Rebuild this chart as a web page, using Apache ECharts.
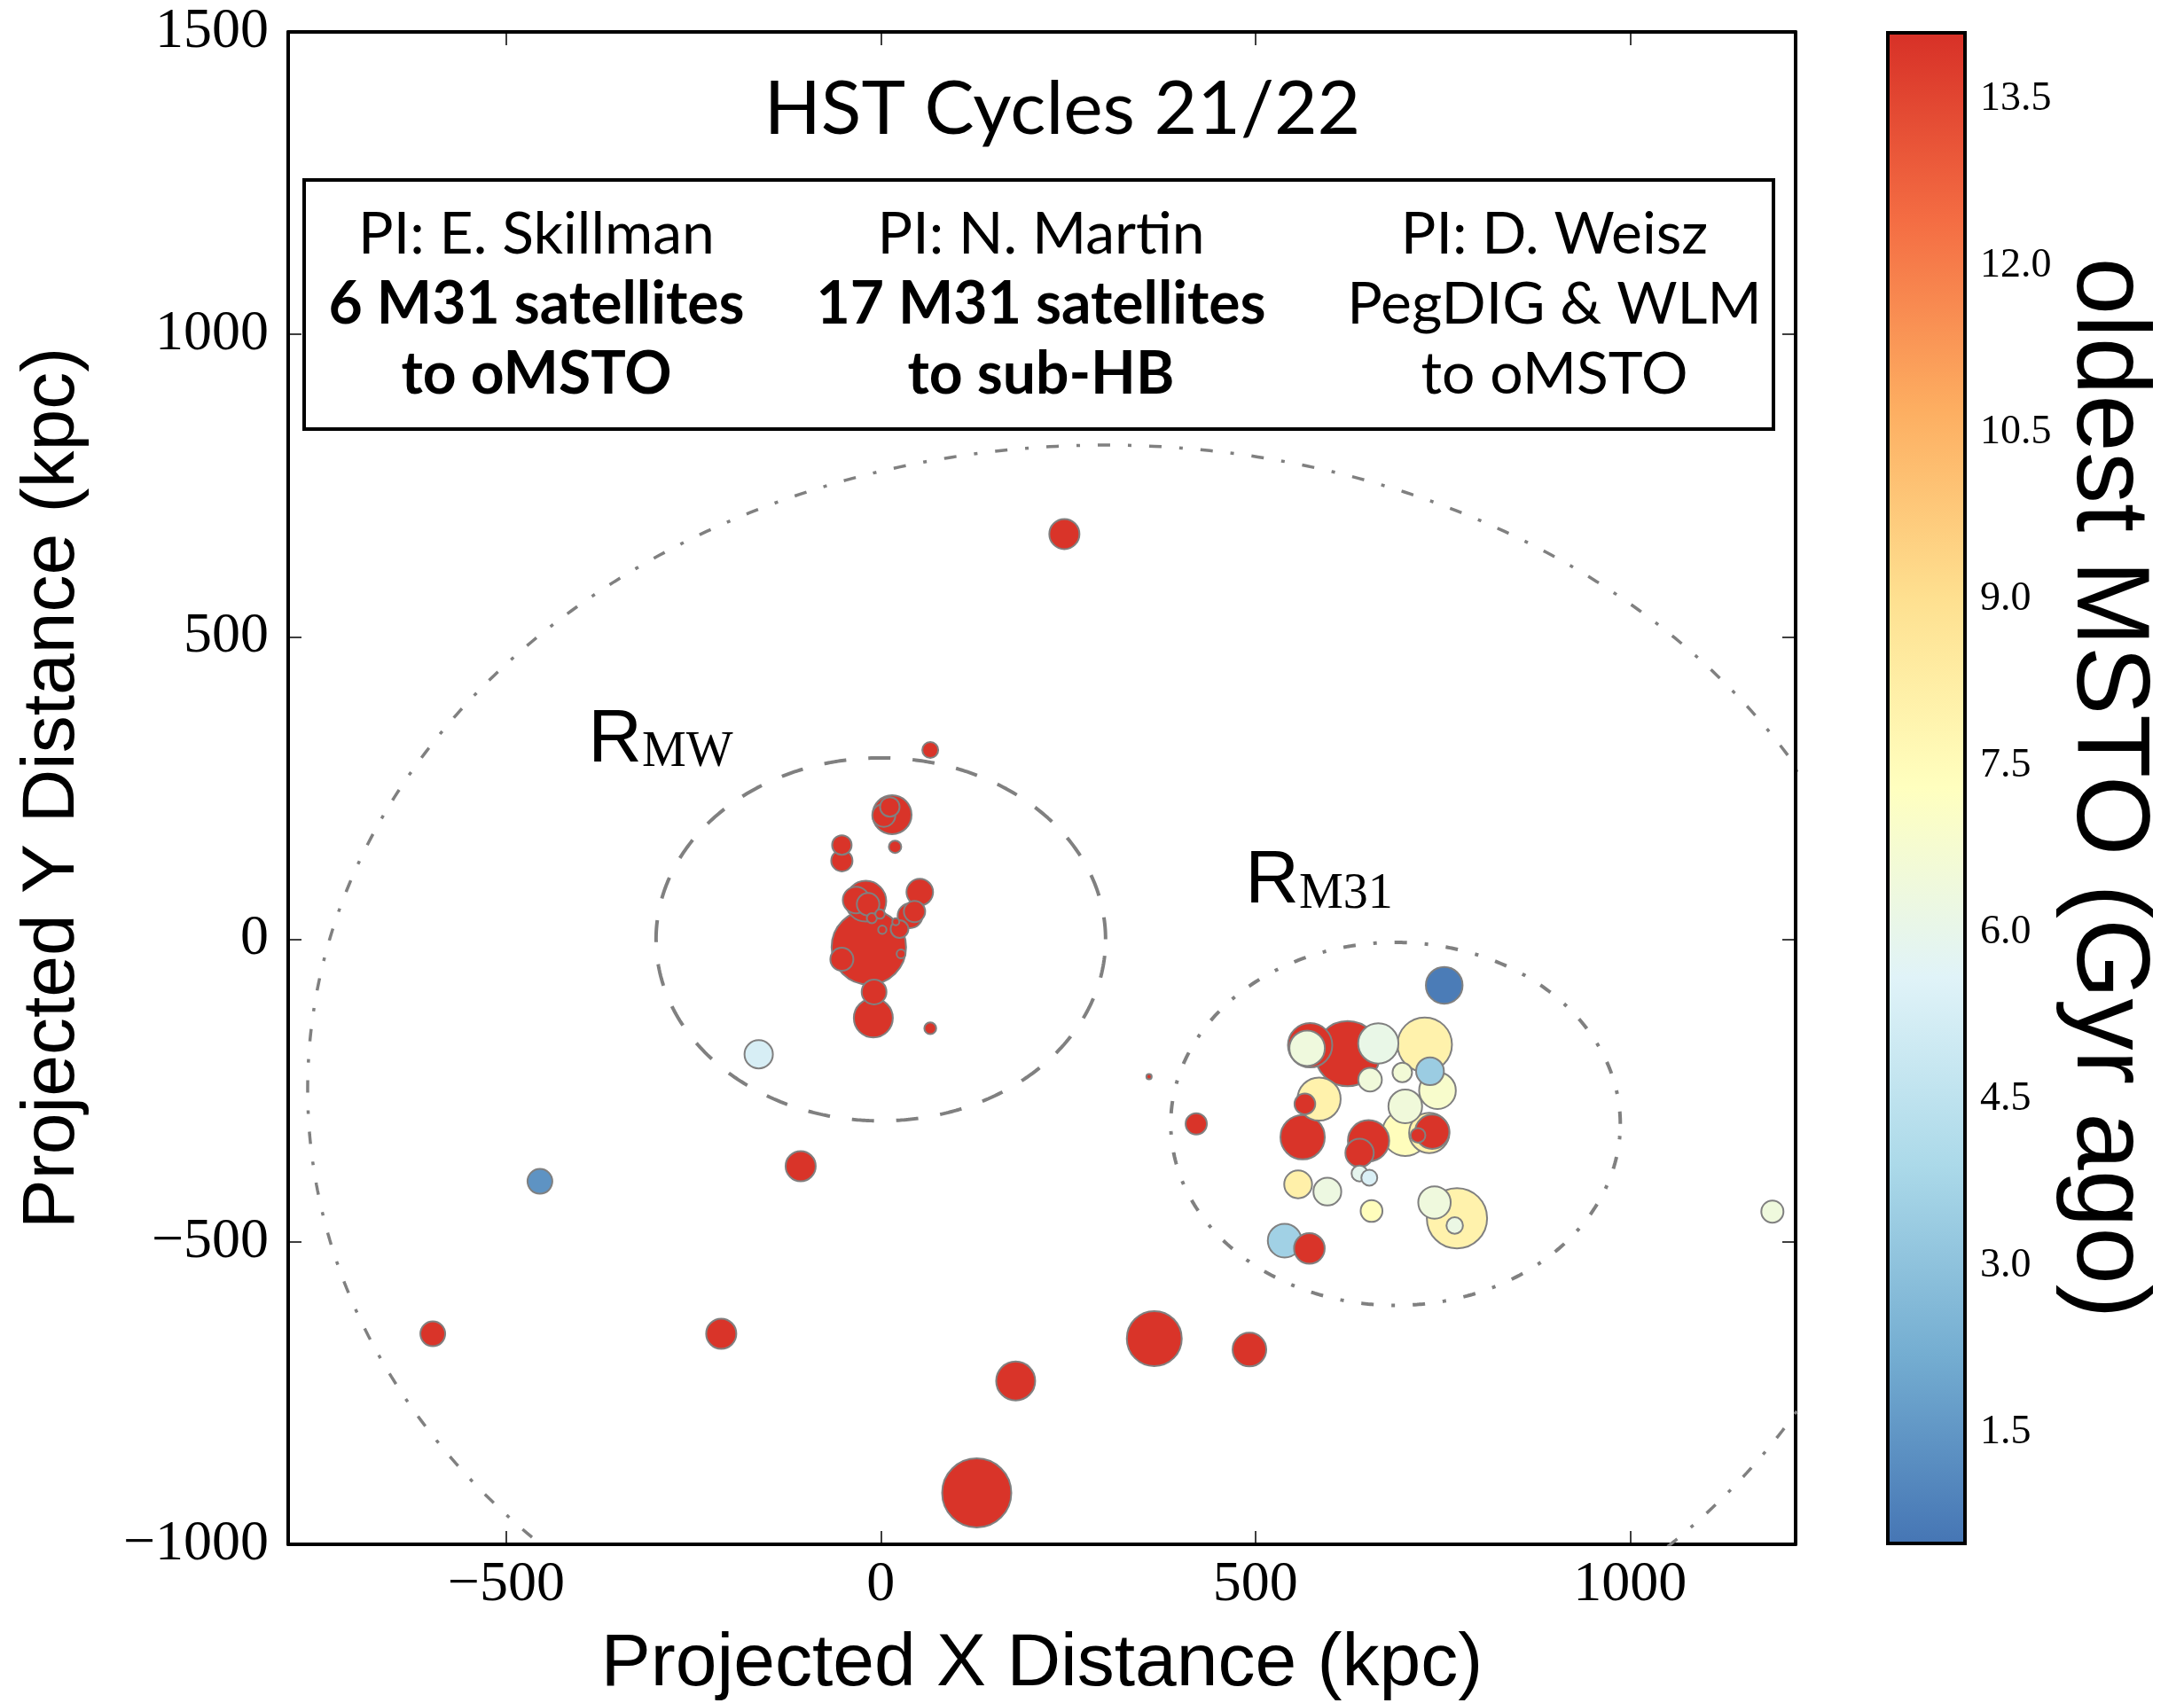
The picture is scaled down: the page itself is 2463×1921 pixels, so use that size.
<!DOCTYPE html>
<html>
<head>
<meta charset="utf-8">
<script src="https://cdn.jsdelivr.net/npm/echarts@6/dist/echarts.min.js"></script>
<style>
html, body { margin: 0; padding: 0; background: #fff; }
#chart { width: 2463px; height: 1921px; }
</style>
</head>
<body>
<div id="chart"></div>
<script>
// satellites: projected X / Y (kpc), oldest MSTO age (Gyr ago), marker size
const satX = [
    245, 66, -163, -455, -107, -598, -213, 365, 492, 180, 128, 358, 66, 421, 1190,
    15, 12, 4, -52, -52, 19, 52, 39, 45, 25, 20, 2, 27, -16, -52, -20, -33, -17, -12, -1, -9, -10,
    752, 573, 569, 623, 664, 726, 653, 696, 733, 743, 585, 566, 563, 651, 639, 700, 700, 732, 736, 717,
    639, 652, 557, 596, 655, 769, 739, 766, 539, 572
];
const satY = [
    670, 313, -190, -400, -375, -652, -652, -660, -678, -730, -915, -227, -147, -305, -450,
    206, 219, 205, 156, 130, 153, 78, 39, 46, 17, 29, 16, -24, -13, -33, 63, 65, 58, 35, 42, -87, -130,
    -76, -175, -180, -189, -172, -174, -232, -220, -218, -250, -264, -272, -327, -333, -353, -320, -276, -320, -318, -324,
    -387, -394, -405, -417, -449, -461, -435, -473, -498, -511
];
const satAge = [
    14, 14, 5.3, 1.4, 14, 14, 14, 14, 14, 14, 14, 14, 14, 14, 6.4,
    14, 14, 14, 14, 14, 14, 14, 14, 14, 14, 14, 14, 14, 14, 14, 14, 14, 14, 14, 14, 14, 14,
    0.7, 14, 6.4, 14, 6.1, 8.0, 6.5, 6.6, 3.4, 6.9, 8.0, 14, 14, 14, 14, 7.4, 6.5, 8.0, 14, 14,
    5.9, 5.4, 8.1, 6.3, 7.4, 8.0, 6.4, 6.2, 3.6, 14
];
const satSize = [
    17, 9, 16, 14, 17, 14, 17, 31, 19, 22, 39, 3, 6.7, 12, 12.5,
    22, 11, 13, 11, 12, 7, 15, 14, 12, 10, 4, 4.7, 5, 42, 13, 23, 15, 12.7, 5.7, 5.3, 14, 22,
    20.7, 25, 20, 36.7, 22.7, 30.7, 13.3, 11, 15.7, 20.7, 24.3, 11.7, 25, 23.3, 16, 26, 19, 22.7, 19.3, 8.3,
    9, 9, 15.7, 15.7, 12.3, 34, 18.3, 9.3, 19, 17.3
];

// reference radii (kpc): MW, M31, outer boundary
const circleCX = [0, 687, 300];
const circleCY = [0, -305, -248];
const circleR = [300, 300, 1065];
const circleDash = [[25, 25], [14, 20, 4, 20], [14, 20, 4, 20]];

const regionNames = ['MW', 'M31'];
const regionLabelX = [-390, 487];
const regionLabelY = [266, 32];

const xTicks = [-500, 0, 500, 1000];
const cbTicks = [1.5, 3.0, 4.5, 6.0, 7.5, 9.0, 10.5, 12.0, 13.5];
const cbMin = 0.5, cbMax = 14.1;
const cmap = ['#4575b4', '#74add1', '#abd9e9', '#e0f3f8', '#ffffbf', '#fee090', '#fdae61', '#f46d43', '#d73027'];

const programs = [
    ['PI: E. Skillman', '6 M31 satellites', 'to oMSTO', true],
    ['PI: N. Martin', '17 M31 satellites', 'to sub-HB', true],
    ['PI: D. Weisz', 'PegDIG & WLM', 'to oMSTO', false]
];

function ring(cx, cy, r) {
    let pts = [];
    for (let i = 0; i <= 720; i++) {
        let a = i / 720 * 2 * Math.PI;
        pts.push([cx + r * Math.cos(a), cy + r * Math.sin(a)]);
    }
    return pts;
}

const minus = v => String(v).replace('-', '\u2212');

// big markers first so small ones stay visible on top
let order = satX.map((v, i) => i).sort((a, b) => satSize[b] - satSize[a]);
let satData = order.map(i => [satX[i], satY[i], satAge[i], satSize[i]]);

let chart = echarts.init(document.getElementById('chart'));

let frameLine = {show: true, onZero: false, lineStyle: {color: '#000', width: 4}};
let tickStyle = {lineStyle: {color: '#000', width: 1.5}};

let series = [];
circleR.forEach((r, i) => {
    series.push({
        type: 'line',
        xAxisIndex: 0,
        yAxisIndex: 0,
        data: ring(circleCX[i], circleCY[i], r),
        showSymbol: false,
        symbol: 'none',
        clip: true,
        silent: true,
        lineStyle: {color: '#808080', width: i === 2 ? 3.5 : 4, type: circleDash[i]},
        z: 2
    });
});
series.push({
    type: 'scatter',
    xAxisIndex: 0,
    yAxisIndex: 0,
    data: satData,
    symbolSize: d => d[3] * 2,
    itemStyle: {borderColor: '#808080', borderWidth: 2, opacity: 1},
    silent: true,
    z: 5
});
series.push({
    type: 'scatter',
    xAxisIndex: 0,
    yAxisIndex: 0,
    data: regionNames.map((n, i) => ({value: [regionLabelX[i], regionLabelY[i]], name: n})),
    symbolSize: 1,
    itemStyle: {color: 'rgba(0,0,0,0)'},
    silent: true,
    z: 6,
    label: {
        show: true,
        position: [0, 0],
        align: 'left',
        verticalAlign: 'bottom',
        color: '#000',
        opacity: 1,
        formatter: p => '{r|R}{s|' + p.name + '}',
        rich: {
            r: {fontFamily: 'Liberation Sans', fontSize: 84, lineHeight: 84, color: '#000', opacity: 1, verticalAlign: 'bottom'},
            s: {fontFamily: 'Liberation Serif', fontSize: 56, lineHeight: 56, color: '#000', opacity: 1, verticalAlign: 'bottom'}
        }
    }
});
// colorbar
series.push({
    type: 'custom',
    xAxisIndex: 2,
    yAxisIndex: 2,
    data: [[0, cbMin]],
    silent: true,
    renderItem: (params, api) => {
        let p0 = api.coord([0, cbMax]);
        let p1 = api.coord([1, cbMin]);
        let stops = cmap.slice().reverse().map((c, i) => ({offset: i / (cmap.length - 1), color: c}));
        return {
            type: 'rect',
            shape: {x: p0[0], y: p0[1], width: p1[0] - p0[0], height: p1[1] - p0[1]},
            style: {fill: new echarts.graphic.LinearGradient(0, 0, 0, 1, stops), stroke: '#000', lineWidth: 4}
        };
    }
});

let graphics = [{
    type: 'text',
    x: 1198,
    y: 124,
    style: {text: 'HST Cycles 21/22', fontFamily: 'Lato', fontSize: 84, fill: '#000', align: 'center', verticalAlign: 'middle'}
}, {
    type: 'rect',
    shape: {x: 343, y: 203, width: 1657, height: 281},
    style: {fill: 'none', stroke: '#000', lineWidth: 4}
}];
let colCenters = [605, 1174, 1753];
programs.forEach((p, i) => {
    let tag = p[3] ? 'b' : 'n';
    graphics.push({
        type: 'text',
        x: colCenters[i],
        y: 225,
        style: {
            text: p[0] + '\n{' + tag + '|' + p[1] + '}\n{' + tag + '|' + p[2] + '}',
            fontFamily: 'Lato', fontSize: 66, lineHeight: 79, fill: '#000',
            align: 'center', verticalAlign: 'top',
            rich: {
                b: {fontFamily: 'Lato', fontWeight: 'bold', fontSize: 66, lineHeight: 79, fill: '#000'},
                n: {fontFamily: 'Lato', fontSize: 66, lineHeight: 79, fill: '#000'}
            }
        }
    });
});

let option = {
    backgroundColor: '#fff',
    animation: false,
    grid: [
        {left: 325, top: 36, width: 1700, height: 1706, outerBoundsMode: 'none'},
        {left: 2129, top: 37, width: 87, height: 1704, outerBoundsMode: 'none'}
    ],
    visualMap: {
        type: 'continuous',
        show: false,
        seriesIndex: 3,
        dimension: 2,
        min: cbMin,
        max: cbMax,
        inRange: {color: cmap}
    },
    xAxis: [{
        type: 'value', gridIndex: 0, position: 'bottom',
        min: -791, max: 1221,
        axisLine: frameLine,
        axisTick: Object.assign({inside: true, length: 15, customValues: xTicks}, tickStyle),
        axisLabel: {customValues: xTicks, formatter: minus, fontFamily: 'Liberation Serif', fontSize: 64, color: '#000', margin: 14},
        splitLine: {show: false},
        name: 'Projected X Distance (kpc)',
        nameLocation: 'middle',
        nameGap: 94,
        nameMoveOverlap: false,
        nameTextStyle: {fontFamily: 'Liberation Sans', fontSize: 84, color: '#000'}
    }, {
        type: 'value', gridIndex: 0, position: 'top',
        min: -791, max: 1221,
        axisLine: frameLine,
        axisTick: Object.assign({inside: true, length: 15, customValues: xTicks}, tickStyle),
        axisLabel: {show: false},
        splitLine: {show: false}
    }, {
        type: 'value', gridIndex: 1, min: 0, max: 1, show: false
    }],
    yAxis: [{
        type: 'value', gridIndex: 0, position: 'left',
        min: -1000, max: 1500, interval: 500,
        axisLine: frameLine,
        axisTick: Object.assign({inside: true, length: 15}, tickStyle),
        axisLabel: {formatter: minus, fontFamily: 'Liberation Serif', fontSize: 64, color: '#000', margin: 22},
        splitLine: {show: false},
        name: 'Projected Y Distance (kpc)',
        nameLocation: 'middle',
        nameRotate: 90,
        nameGap: 223,
        nameMoveOverlap: false,
        nameTextStyle: {fontFamily: 'Liberation Sans', fontSize: 84, color: '#000'}
    }, {
        type: 'value', gridIndex: 0, position: 'right',
        min: -1000, max: 1500, interval: 500,
        axisLine: frameLine,
        axisTick: Object.assign({inside: true, length: 15}, tickStyle),
        axisLabel: {show: false},
        splitLine: {show: false}
    }, {
        type: 'value', gridIndex: 1, position: 'right',
        min: cbMin, max: cbMax,
        axisLine: {show: true, onZero: false, lineStyle: {color: '#000', width: 4}},
        axisTick: {inside: true, length: 15, customValues: cbTicks, lineStyle: {color: '#000', width: 2}},
        axisLabel: {customValues: cbTicks, formatter: v => Number(v).toFixed(1), fontFamily: 'Liberation Serif', fontSize: 46, color: '#000', margin: 17},
        splitLine: {show: false},
        name: 'oldest MSTO (Gyr ago)',
        nameLocation: 'middle',
        nameRotate: -90,
        nameGap: 101,
        nameMoveOverlap: false,
        nameTextStyle: {fontFamily: 'Liberation Sans', fontSize: 116, color: '#000'}
    }],
    graphic: graphics,
    series: series
};

chart.setOption(option);
</script>
</body>
</html>
